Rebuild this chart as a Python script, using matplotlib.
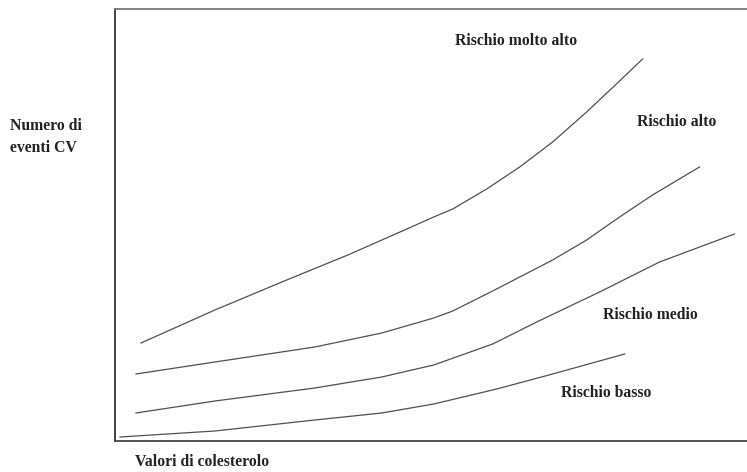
import matplotlib.pyplot as plt

# curves (x: colesterolo, y: eventi CV, arbitrary units)
basso_x = [5, 100, 200, 267, 319, 382, 438, 510]
basso_y = [4, 10, 21, 28, 37, 52, 67, 87]
medio_x = [21, 100, 200, 267, 319, 378, 422, 485, 545, 620]
medio_y = [28, 40, 53, 64, 76, 97, 119, 149, 179, 207]
alto_x = [21, 100, 200, 267, 319, 338, 378, 438, 472, 505, 538, 585]
alto_y = [67, 79, 94, 108, 123, 130, 150, 181, 201, 224, 246, 274]
molto_x = [26, 100, 167, 233, 283, 319, 338, 372, 405, 438, 472, 505, 528]
molto_y = [98, 131, 159, 186, 208, 224, 232, 252, 274, 299, 329, 360, 382]

labels = ['Rischio molto alto', 'Rischio alto', 'Rischio medio', 'Rischio basso']
label_pos = [(401, 400), (562, 319), (536, 126), (492, 48)]

fig = plt.figure(figsize=(7.47, 4.72), dpi=100)
ax = fig.add_axes([115/747, 31/472, 1 - 115/747 + 0.01, 432/472])

for xs, ys in [(basso_x, basso_y), (medio_x, medio_y), (alto_x, alto_y), (molto_x, molto_y)]:
    ax.plot(xs, ys, color='#505050', lw=0.9, solid_joinstyle='round')

for txt, (x, y) in zip(labels, label_pos):
    ax.text(x, y, txt, ha='center', va='center', family='Liberation Serif',
            weight='bold', fontsize=11.3, color='#222')

ax.set_xlim(0, 640)
ax.set_ylim(0, 432)
ax.set_xticks([])
ax.set_yticks([])
ax.spines['right'].set_visible(False)
ax.spines['left'].set_color('#333')
ax.spines['bottom'].set_color('#444')
ax.spines['top'].set_color('#777')
for s in ['left', 'bottom', 'top']:
    ax.spines[s].set_linewidth(1.3)

fig.text(10/747, 1 - 137/472, 'Numero di\neventi CV', ha='left', va='center',
         family='Liberation Serif', weight='bold', fontsize=11.3, color='#222',
         linespacing=1.55)
fig.text(135/747, 1 - 462/472, 'Valori di colesterolo', ha='left', va='center',
         family='Liberation Serif', weight='bold', fontsize=11.3, color='#222')

plt.savefig('out.png', dpi=100)
